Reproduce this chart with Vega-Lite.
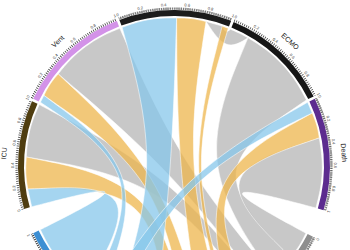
{
"$schema": "https://vega.github.io/schema/vega-lite/v6.json",
"width": 350, "height": 250, "padding": 0, "autosize": {"type": "none"},
"config": {"view": {"stroke": null}},
"datasets": {
"ribbons": [
{"id":"r01","c":"grey","k":1,"x":32.0,"y":144.5},{"id":"r01","c":"grey","k":2,"x":32.0,"y":144.5},{"id":"r01","c":"grey","k":3,"x":32.0,"y":144.5},
{"id":"r01","c":"grey","k":4,"x":48.2,"y":139.9},{"id":"r01","c":"grey","k":5,"x":48.2,"y":139.9},{"id":"r01","c":"grey","k":6,"x":48.2,"y":139.9},
{"id":"r01","c":"grey","k":7,"x":51.5,"y":133.0},
{"id":"r01","c":"grey","k":8,"x":56.6,"y":136.7},{"id":"r01","c":"grey","k":9,"x":56.6,"y":136.7},{"id":"r01","c":"grey","k":10,"x":56.6,"y":136.7},
{"id":"r01","c":"grey","k":11,"x":64.9,"y":133.2},
{"id":"r01","c":"grey","k":12,"x":74.0,"y":128.2},{"id":"r01","c":"grey","k":13,"x":74.0,"y":128.2},{"id":"r01","c":"grey","k":14,"x":74.0,"y":128.2},
{"id":"r01","c":"grey","k":15,"x":51.8,"y":114.7},

{"id":"r02","c":"grey","k":1,"x":74.0,"y":128.2},{"id":"r02","c":"grey","k":2,"x":74.0,"y":128.2},{"id":"r02","c":"grey","k":3,"x":74.0,"y":128.2},
{"id":"r02","c":"grey","k":4,"x":92.5,"y":116.8},{"id":"r02","c":"grey","k":5,"x":108.5,"y":102.1},{"id":"r02","c":"grey","k":6,"x":122.2,"y":85.2},
{"id":"r02","c":"grey","k":7,"x":132.4,"y":66.0},{"id":"r02","c":"grey","k":8,"x":132.4,"y":66.0},{"id":"r02","c":"grey","k":9,"x":132.4,"y":66.0},
{"id":"r02","c":"grey","k":10,"x":31.1,"y":-3.1},
{"id":"r02","c":"grey","k":11,"x":116.6,"y":-91.1},{"id":"r02","c":"grey","k":12,"x":116.6,"y":-91.1},{"id":"r02","c":"grey","k":13,"x":116.6,"y":-91.1},
{"id":"r02","c":"grey","k":14,"x":99.0,"y":-110.0},{"id":"r02","c":"grey","k":15,"x":99.0,"y":-110.0},{"id":"r02","c":"grey","k":16,"x":99.0,"y":-110.0},
{"id":"r02","c":"grey","k":17,"x":21.6,"y":2.3},

{"id":"r03","c":"grey","k":1,"x":145.3,"y":28.2},{"id":"r03","c":"grey","k":2,"x":145.3,"y":28.2},{"id":"r03","c":"grey","k":3,"x":145.3,"y":28.2},
{"id":"r03","c":"grey","k":4,"x":148.9,"y":4.7},{"id":"r03","c":"grey","k":5,"x":147.8,"y":-18.9},
{"id":"r03","c":"grey","k":6,"x":141.9,"y":-42.0},{"id":"r03","c":"grey","k":7,"x":141.9,"y":-42.0},{"id":"r03","c":"grey","k":8,"x":141.9,"y":-42.0},
{"id":"r03","c":"grey","k":9,"x":34.2,"y":-13.7},
{"id":"r03","c":"grey","k":10,"x":131.9,"y":-67.2},{"id":"r03","c":"grey","k":11,"x":131.9,"y":-67.2},{"id":"r03","c":"grey","k":12,"x":131.9,"y":-67.2},
{"id":"r03","c":"grey","k":13,"x":125.7,"y":-80.1},
{"id":"r03","c":"grey","k":14,"x":116.6,"y":-91.1},{"id":"r03","c":"grey","k":15,"x":116.6,"y":-91.1},{"id":"r03","c":"grey","k":16,"x":116.6,"y":-91.1},
{"id":"r03","c":"grey","k":17,"x":32.7,"y":-7.9},

{"id":"r04","c":"grey","k":1,"x":-147.7,"y":9.0},{"id":"r04","c":"grey","k":2,"x":-147.7,"y":9.0},{"id":"r04","c":"grey","k":3,"x":-147.7,"y":9.0},
{"id":"r04","c":"grey","k":4,"x":-146.5,"y":27.1},{"id":"r04","c":"grey","k":5,"x":-142.1,"y":44.8},
{"id":"r04","c":"grey","k":6,"x":-134.7,"y":61.4},{"id":"r04","c":"grey","k":7,"x":-134.7,"y":61.4},{"id":"r04","c":"grey","k":8,"x":-134.7,"y":61.4},
{"id":"r04","c":"grey","k":9,"x":-6.0,"y":-7.3},
{"id":"r04","c":"grey","k":10,"x":87.0,"y":-119.7},{"id":"r04","c":"grey","k":11,"x":87.0,"y":-119.7},{"id":"r04","c":"grey","k":12,"x":87.0,"y":-119.7},
{"id":"r04","c":"grey","k":13,"x":76.2,"y":-126.9},{"id":"r04","c":"grey","k":14,"x":76.2,"y":-126.9},{"id":"r04","c":"grey","k":15,"x":76.2,"y":-126.9},
{"id":"r04","c":"grey","k":16,"x":-8.9,"y":-14.7},

{"id":"r05","c":"grey","k":1,"x":-115.8,"y":92.1},{"id":"r05","c":"grey","k":2,"x":-115.8,"y":92.1},{"id":"r05","c":"grey","k":3,"x":-115.8,"y":92.1},
{"id":"r05","c":"grey","k":4,"x":-103.5,"y":107.2},{"id":"r05","c":"grey","k":5,"x":-88.6,"y":119.8},{"id":"r05","c":"grey","k":6,"x":-72.2,"y":130.3},
{"id":"r05","c":"grey","k":7,"x":-54.2,"y":137.7},{"id":"r05","c":"grey","k":8,"x":-54.2,"y":137.7},{"id":"r05","c":"grey","k":9,"x":-54.2,"y":137.7},
{"id":"r05","c":"grey","k":10,"x":5.6,"y":3.5},
{"id":"r05","c":"grey","k":11,"x":99.0,"y":-110.0},{"id":"r05","c":"grey","k":12,"x":99.0,"y":-110.0},{"id":"r05","c":"grey","k":13,"x":99.0,"y":-110.0},
{"id":"r05","c":"grey","k":14,"x":87.0,"y":-119.7},{"id":"r05","c":"grey","k":15,"x":87.0,"y":-119.7},{"id":"r05","c":"grey","k":16,"x":87.0,"y":-119.7},
{"id":"r05","c":"grey","k":17,"x":-3.6,"y":-3.5},

{"id":"r06","c":"orange","k":1,"x":2.6,"y":148.0},{"id":"r06","c":"orange","k":2,"x":2.6,"y":148.0},{"id":"r06","c":"orange","k":3,"x":2.6,"y":148.0},
{"id":"r06","c":"orange","k":4,"x":17.5,"y":148.0},
{"id":"r06","c":"orange","k":5,"x":32.0,"y":144.5},{"id":"r06","c":"orange","k":6,"x":32.0,"y":144.5},{"id":"r06","c":"orange","k":7,"x":32.0,"y":144.5},
{"id":"r06","c":"orange","k":8,"x":10.0,"y":0.6},
{"id":"r06","c":"orange","k":9,"x":48.2,"y":-139.9},{"id":"r06","c":"orange","k":10,"x":48.2,"y":-139.9},{"id":"r06","c":"orange","k":11,"x":48.2,"y":-139.9},
{"id":"r06","c":"orange","k":12,"x":25.7,"y":-145.8},{"id":"r06","c":"orange","k":13,"x":25.7,"y":-145.8},{"id":"r06","c":"orange","k":14,"x":25.7,"y":-145.8},
{"id":"r06","c":"orange","k":15,"x":3.5,"y":0.3},

{"id":"r07","c":"orange","k":1,"x":48.2,"y":139.9},{"id":"r07","c":"orange","k":2,"x":48.2,"y":139.9},{"id":"r07","c":"orange","k":3,"x":48.2,"y":139.9},
{"id":"r07","c":"orange","k":4,"x":54.2,"y":137.7},{"id":"r07","c":"orange","k":5,"x":54.2,"y":137.7},{"id":"r07","c":"orange","k":6,"x":54.2,"y":137.7},
{"id":"r07","c":"orange","k":7,"x":13.7,"y":0.1},
{"id":"r07","c":"orange","k":8,"x":55.4,"y":-137.2},{"id":"r07","c":"orange","k":9,"x":55.4,"y":-137.2},{"id":"r07","c":"orange","k":10,"x":55.4,"y":-137.2},
{"id":"r07","c":"orange","k":11,"x":50.6,"y":-139.1},{"id":"r07","c":"orange","k":12,"x":50.6,"y":-139.1},{"id":"r07","c":"orange","k":13,"x":50.6,"y":-139.1},
{"id":"r07","c":"orange","k":14,"x":12.4,"y":0.1},

{"id":"r08","c":"orange","k":1,"x":138.2,"y":53.0},{"id":"r08","c":"orange","k":2,"x":138.2,"y":53.0},{"id":"r08","c":"orange","k":3,"x":138.2,"y":53.0},
{"id":"r08","c":"orange","k":4,"x":143.2,"y":41.1},
{"id":"r08","c":"orange","k":5,"x":145.3,"y":28.2},{"id":"r08","c":"orange","k":6,"x":145.3,"y":28.2},{"id":"r08","c":"orange","k":7,"x":145.3,"y":28.2},
{"id":"r08","c":"orange","k":8,"x":27.4,"y":-12.5},
{"id":"r08","c":"orange","k":9,"x":74.0,"y":-128.2},{"id":"r08","c":"orange","k":10,"x":74.0,"y":-128.2},{"id":"r08","c":"orange","k":11,"x":74.0,"y":-128.2},
{"id":"r08","c":"orange","k":12,"x":56.6,"y":-136.7},{"id":"r08","c":"orange","k":13,"x":56.6,"y":-136.7},{"id":"r08","c":"orange","k":14,"x":56.6,"y":-136.7},
{"id":"r08","c":"orange","k":15,"x":24.4,"y":-10.5},

{"id":"r09","c":"orange","k":1,"x":-146.2,"y":-23.1},{"id":"r09","c":"orange","k":2,"x":-146.2,"y":-23.1},{"id":"r09","c":"orange","k":3,"x":-146.2,"y":-23.1},
{"id":"r09","c":"orange","k":4,"x":-148.8,"y":-7.2},
{"id":"r09","c":"orange","k":5,"x":-147.7,"y":9.0},{"id":"r09","c":"orange","k":6,"x":-147.7,"y":9.0},{"id":"r09","c":"orange","k":7,"x":-147.7,"y":9.0},
{"id":"r09","c":"orange","k":8,"x":-17.2,"y":-17.3},
{"id":"r09","c":"orange","k":9,"x":10.3,"y":-147.6},{"id":"r09","c":"orange","k":10,"x":10.3,"y":-147.6},{"id":"r09","c":"orange","k":11,"x":10.3,"y":-147.6},
{"id":"r09","c":"orange","k":12,"x":-10.3,"y":-147.6},{"id":"r09","c":"orange","k":13,"x":-10.3,"y":-147.6},{"id":"r09","c":"orange","k":14,"x":-10.3,"y":-147.6},
{"id":"r09","c":"orange","k":15,"x":-19.6,"y":-21.3},

{"id":"r10","c":"orange","k":1,"x":-130.1,"y":70.6},{"id":"r10","c":"orange","k":2,"x":-130.1,"y":70.6},{"id":"r10","c":"orange","k":3,"x":-130.1,"y":70.6},
{"id":"r10","c":"orange","k":4,"x":-124.3,"y":82.2},
{"id":"r10","c":"orange","k":5,"x":-115.8,"y":92.1},{"id":"r10","c":"orange","k":6,"x":-115.8,"y":92.1},{"id":"r10","c":"orange","k":7,"x":-115.8,"y":92.1},
{"id":"r10","c":"orange","k":8,"x":-11.3,"y":-6.7},
{"id":"r10","c":"orange","k":9,"x":25.7,"y":-145.8},{"id":"r10","c":"orange","k":10,"x":25.7,"y":-145.8},{"id":"r10","c":"orange","k":11,"x":25.7,"y":-145.8},
{"id":"r10","c":"orange","k":12,"x":10.3,"y":-147.6},{"id":"r10","c":"orange","k":13,"x":10.3,"y":-147.6},{"id":"r10","c":"orange","k":14,"x":10.3,"y":-147.6},
{"id":"r10","c":"orange","k":15,"x":-15.0,"y":-9.6},

{"id":"r11","c":"blue","k":1,"x":-51.8,"y":138.6},{"id":"r11","c":"blue","k":2,"x":-51.8,"y":138.6},{"id":"r11","c":"blue","k":3,"x":-51.8,"y":138.6},
{"id":"r11","c":"blue","k":4,"x":-34.3,"y":145.0},{"id":"r11","c":"blue","k":5,"x":-16.1,"y":148.1},
{"id":"r11","c":"blue","k":6,"x":2.6,"y":148.0},{"id":"r11","c":"blue","k":7,"x":2.6,"y":148.0},{"id":"r11","c":"blue","k":8,"x":2.6,"y":148.0},
{"id":"r11","c":"blue","k":9,"x":-1.9,"y":0.1},
{"id":"r11","c":"blue","k":10,"x":-18.0,"y":-146.9},{"id":"r11","c":"blue","k":11,"x":-18.0,"y":-146.9},{"id":"r11","c":"blue","k":12,"x":-18.0,"y":-146.9},
{"id":"r11","c":"blue","k":13,"x":-57.8,"y":-136.2},{"id":"r11","c":"blue","k":14,"x":-57.8,"y":-136.2},{"id":"r11","c":"blue","k":15,"x":-57.8,"y":-136.2},
{"id":"r11","c":"blue","k":16,"x":-13.7,"y":0.3},

{"id":"r12","c":"blue","k":1,"x":133.6,"y":63.7},{"id":"r12","c":"blue","k":2,"x":133.6,"y":63.7},{"id":"r12","c":"blue","k":3,"x":133.6,"y":63.7},
{"id":"r12","c":"blue","k":4,"x":138.2,"y":53.0},{"id":"r12","c":"blue","k":5,"x":138.2,"y":53.0},{"id":"r12","c":"blue","k":6,"x":138.2,"y":53.0},
{"id":"r12","c":"blue","k":7,"x":10.1,"y":-10.4},
{"id":"r12","c":"blue","k":8,"x":-57.8,"y":-136.2},{"id":"r12","c":"blue","k":9,"x":-57.8,"y":-136.2},{"id":"r12","c":"blue","k":10,"x":-57.8,"y":-136.2},
{"id":"r12","c":"blue","k":11,"x":-71.8,"y":-129.4},{"id":"r12","c":"blue","k":12,"x":-71.8,"y":-129.4},{"id":"r12","c":"blue","k":13,"x":-71.8,"y":-129.4},
{"id":"r12","c":"blue","k":14,"x":7.7,"y":-8.2},

{"id":"r13","c":"blue","k":1,"x":-142.3,"y":-40.8},{"id":"r13","c":"blue","k":2,"x":-142.3,"y":-40.8},{"id":"r13","c":"blue","k":3,"x":-142.3,"y":-40.8},
{"id":"r13","c":"blue","k":4,"x":-146.2,"y":-23.1},{"id":"r13","c":"blue","k":5,"x":-146.2,"y":-23.1},{"id":"r13","c":"blue","k":6,"x":-146.2,"y":-23.1},
{"id":"r13","c":"blue","k":7,"x":-29.2,"y":-17.9},
{"id":"r13","c":"blue","k":8,"x":-87.0,"y":-119.7},{"id":"r13","c":"blue","k":9,"x":-87.0,"y":-119.7},{"id":"r13","c":"blue","k":10,"x":-87.0,"y":-119.7},
{"id":"r13","c":"blue","k":11,"x":-101.8,"y":-108.8},{"id":"r13","c":"blue","k":12,"x":-114.6,"y":-95.3},{"id":"r13","c":"blue","k":13,"x":-125.5,"y":-80.3},
{"id":"r13","c":"blue","k":14,"x":-133.6,"y":-63.7},{"id":"r13","c":"blue","k":15,"x":-133.6,"y":-63.7},{"id":"r13","c":"blue","k":16,"x":-133.6,"y":-63.7},
{"id":"r13","c":"blue","k":17,"x":-34.5,"y":-13.1},

{"id":"r14","c":"blue","k":1,"x":-133.6,"y":63.7},{"id":"r14","c":"blue","k":2,"x":-133.6,"y":63.7},{"id":"r14","c":"blue","k":3,"x":-133.6,"y":63.7},
{"id":"r14","c":"blue","k":4,"x":-130.1,"y":70.6},{"id":"r14","c":"blue","k":5,"x":-130.1,"y":70.6},{"id":"r14","c":"blue","k":6,"x":-130.1,"y":70.6},
{"id":"r14","c":"blue","k":7,"x":-25.5,"y":-7.2},
{"id":"r14","c":"blue","k":8,"x":-74.0,"y":-128.2},{"id":"r14","c":"blue","k":9,"x":-74.0,"y":-128.2},{"id":"r14","c":"blue","k":10,"x":-74.0,"y":-128.2},
{"id":"r14","c":"blue","k":11,"x":-82.8,"y":-122.7},{"id":"r14","c":"blue","k":12,"x":-82.8,"y":-122.7},{"id":"r14","c":"blue","k":13,"x":-82.8,"y":-122.7},
{"id":"r14","c":"blue","k":14,"x":-27.1,"y":-7.4}
],
"ring": [
{"seg":"Hospital","t0":339.5,"t1":381.5},
{"seg":"ECMO","t0":22.5,"t1":63.5},
{"seg":"Death","t0":64.5,"t1":106.5},
{"seg":"Recovered","t0":117,"t1":149},
{"seg":"Transferred","t0":150,"t1":185},
{"seg":"Discharged","t0":186,"t1":244.5},
{"seg":"ICU","t0":254,"t1":294.5},
{"seg":"Vent","t0":295.5,"t1":338.5}
],
"ticks": [
{"t":"0","a":339.5,"x":-56.4,"y":150.8},{"t":"0.2","a":347.9,"x":-33.7,"y":157.4},{"t":"0.4","a":356.3,"x":-10.4,"y":160.7},
{"t":"0.6","a":4.7,"x":13.2,"y":160.5},{"t":"0.8","a":13.1,"x":36.5,"y":156.8},{"t":"1","a":21.5,"x":59.0,"y":149.8},
{"t":"0","a":22.5,"x":61.6,"y":148.7},{"t":"0.2","a":30.7,"x":82.2,"y":138.4},{"t":"0.4","a":38.9,"x":101.1,"y":125.3},
{"t":"0.6","a":47.1,"x":117.9,"y":109.6},{"t":"0.8","a":55.3,"x":132.4,"y":91.7},{"t":"1","a":63.5,"x":144.1,"y":71.8},
{"t":"0","a":64.5,"x":145.3,"y":69.3},{"t":"0.2","a":72.9,"x":153.9,"y":47.3},{"t":"0.4","a":81.3,"x":159.1,"y":24.4},
{"t":"0.6","a":89.7,"x":161.0,"y":0.8},{"t":"0.8","a":98.1,"x":159.4,"y":-22.7},{"t":"1","a":106.5,"x":154.4,"y":-45.7},
{"t":"0","a":254,"x":-154.8,"y":-44.4},{"t":"0.2","a":262.1,"x":-159.5,"y":-22.1},{"t":"0.4","a":270.2,"x":-161.0,"y":0.6},
{"t":"0.6","a":278.3,"x":-159.3,"y":23.2},{"t":"0.8","a":286.4,"x":-154.4,"y":45.5},{"t":"1","a":294.5,"x":-146.5,"y":66.8},
{"t":"0","a":295.5,"x":-145.3,"y":69.3},{"t":"0.2","a":304.1,"x":-133.3,"y":90.3},{"t":"0.4","a":312.7,"x":-118.3,"y":109.2},
{"t":"0.6","a":321.3,"x":-100.7,"y":125.6},{"t":"0.8","a":329.9,"x":-80.7,"y":139.3},{"t":"1","a":338.5,"x":-59.0,"y":149.8},
{"t":"0","a":117,"x":143.5,"y":-73.1},
{"t":"1","a":244.5,"x":-145.3,"y":-69.3}
],
"names": [
{"n":"ECMO","a":43,"x":115.9,"y":124.3},
{"n":"Death","a":85.5,"x":169.5,"y":13.3},
{"n":"ICU","a":274.25,"x":-169.5,"y":12.6},
{"n":"Vent","a":317,"x":-115.9,"y":124.3}
]
},
"layer": [
{
"data": {"name": "ribbons"},
"mark": {"type": "line", "filled": true, "interpolate": "basis-closed", "fillOpacity": 0.75, "stroke": "white", "strokeWidth": 0.6, "strokeOpacity": 0.9, "clip": true},
"encoding": {
"x": {"field": "x", "type": "quantitative", "scale": {"domain": [-174, 176], "nice": false, "zero": false}, "axis": null},
"y": {"field": "y", "type": "quantitative", "scale": {"domain": [-84, 166], "nice": false, "zero": false}, "axis": null},
"detail": {"field": "id"},
"order": {"field": "k", "type": "quantitative"},
"color": {"field": "c", "type": "nominal", "scale": {"domain": ["grey", "orange", "blue"], "range": ["#b6b6b6", "#eeb64c", "#87c7eb"]}, "legend": null}
}
},
{
"data": {"name": "ring"},
"mark": {"type": "arc", "radius": 156, "radius2": 150},
"encoding": {
"x": {"datum": 0, "type": "quantitative", "axis": null},
"y": {"datum": 0, "type": "quantitative", "axis": null},
"theta": {"field": "t0", "type": "quantitative", "scale": {"domain": [0, 360], "range": [0, 6.283185307]}, "stack": null},
"theta2": {"field": "t1"},
"color": {"field": "seg", "type": "nominal", "scale": {"domain": ["Hospital", "ECMO", "Death", "Recovered", "Transferred", "Discharged", "ICU", "Vent"], "range": ["#1c1c1c", "#151515", "#5c2c8f", "#8e8e8e", "#e3a53a", "#3d8fd3", "#4f3d10", "#d392e8"]}, "legend": null}
}
},
{
"data": {"name": "ring"},
"mark": {"type": "arc", "radius": 157.4, "radius2": 157.4, "filled": false, "stroke": "#3a3a3a", "strokeWidth": 2.4, "strokeDash": [0.5, 1.7]},
"encoding": {
"x": {"datum": 0, "type": "quantitative", "axis": null},
"y": {"datum": 0, "type": "quantitative", "axis": null},
"theta": {"field": "t0", "type": "quantitative", "scale": {"domain": [0, 360], "range": [0, 6.283185307]}, "stack": null},
"theta2": {"field": "t1"}
}
},
{
"data": {"name": "ticks"},
"mark": {"type": "text", "fontSize": 4, "font": "Liberation Sans", "fill": "#333333", "baseline": "middle", "align": "center"},
"encoding": {
"x": {"field": "x", "type": "quantitative", "axis": null},
"y": {"field": "y", "type": "quantitative", "axis": null},
"text": {"field": "t"},
"angle": {"field": "a", "type": "quantitative", "scale": {"domain": [0, 360], "range": [0, 360]}, "legend": null}
}
},
{
"data": {"name": "names"},
"mark": {"type": "text", "fontSize": 7, "font": "Liberation Sans", "fill": "#222222", "baseline": "middle", "align": "center"},
"encoding": {
"x": {"field": "x", "type": "quantitative", "axis": null},
"y": {"field": "y", "type": "quantitative", "axis": null},
"text": {"field": "n"},
"angle": {"field": "a", "type": "quantitative", "scale": {"domain": [0, 360], "range": [0, 360]}, "legend": null}
}
}
],
"resolve": {"scale": {"color": "independent"}}
}
